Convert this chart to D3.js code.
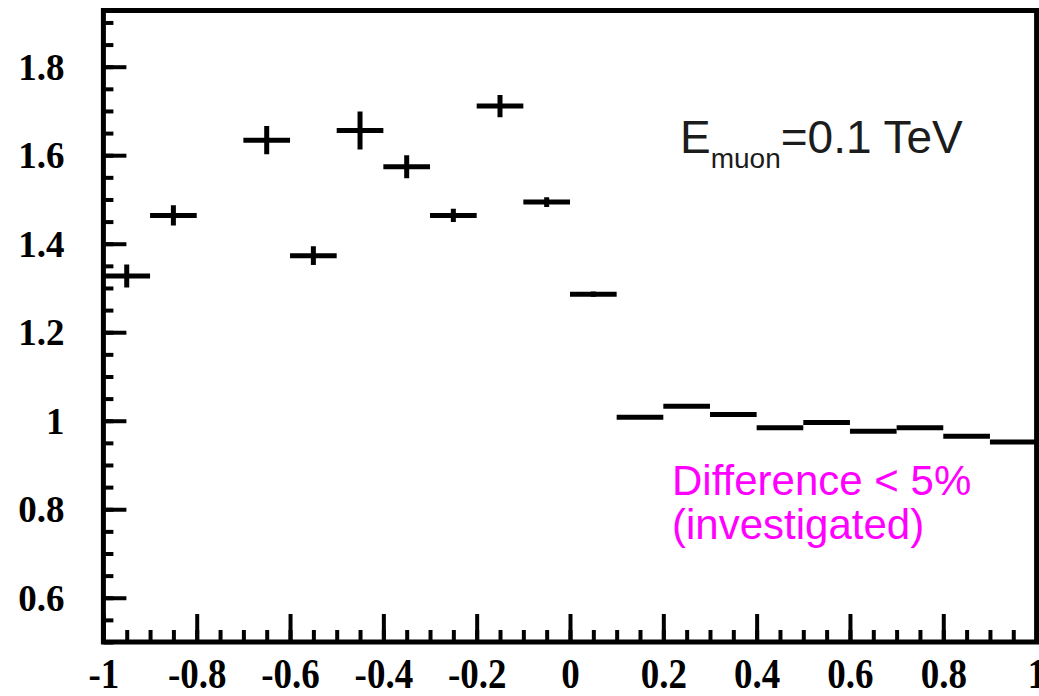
<!DOCTYPE html>
<html>
<head>
<meta charset="utf-8">
<script src="https://cdn.jsdelivr.net/npm/d3@7"></script>
<style>
  body { margin: 0; background: #fff; }
  .axis path { display: none; }
  .axis line { stroke: #000; stroke-width: 4; }
  .axis text { font-family: 'Liberation Serif', 'Times New Roman', serif; font-weight: bold; font-size: 37px; fill: #000; }
</style>
</head>
<body>
<div id="chart"></div>
<script>
// bin centres (bin width 0.1), ratio and its error
const bin_centers = [-0.95, -0.85, -0.75, -0.65, -0.55, -0.45, -0.35, -0.25, -0.15, -0.05,
                     0.05, 0.15, 0.25, 0.35, 0.45, 0.55, 0.65, 0.75, 0.85, 0.95];
const ratio = [1.327, 1.464, null, 1.634, 1.373, 1.656, 1.574, 1.464, 1.711, 1.494,
               1.286, 1.008, 1.033, 1.014, 0.984, 0.996, 0.976, 0.984, 0.965, 0.952];
const ratio_err = [0.026, 0.023, null, 0.032, 0.021, 0.043, 0.026, 0.015, 0.025, 0.011,
                   0.006, 0.003, 0.003, 0.003, 0.003, 0.003, 0.003, 0.003, 0.003, 0.003];
const bin_width = 0.1;

const x_major = [-1, -0.8, -0.6, -0.4, -0.2, 0, 0.2, 0.4, 0.6, 0.8, 1];
const x_labels = ['-1', '-0.8', '-0.6', '-0.4', '-0.2', '0', '0.2', '0.4', '0.6', '0.8', '1'];
const y_major = [0.6, 0.8, 1.0, 1.2, 1.4, 1.6, 1.8];
const y_labels = ['0.6', '0.8', '1', '1.2', '1.4', '1.6', '1.8'];

const chart_width = 1039;
const chart_height = 696;
const frame = { left: 103.4, right: 1036.6, top: 10.5, bottom: 642 };

const data = bin_centers.map((c, i) => ({ x: c, y: ratio[i], e: ratio_err[i] }))
    .filter(d => d.y !== null);

const svg = d3.select('#chart')
    .append('svg')
    .attr('width', chart_width)
    .attr('height', chart_height);

// Scales
const x_scale = d3.scaleLinear()
    .domain([-1, 1])
    .range([frame.left, frame.right]);

const y_scale = d3.scaleLinear()
    .domain([0.5, 1.927])
    .range([frame.bottom, frame.top]);

// Minor ticks every 0.05
const x_minor = d3.range(-100, 101, 5).map(v => v / 100);
const y_minor = d3.range(50, 193, 5).map(v => v / 100);

svg.append('g')
    .classed('axis', true)
    .attr('transform', `translate(0, ${frame.bottom})`)
    .call(d3.axisBottom(x_scale).tickValues(x_minor).tickSize(-12).tickFormat(''));

svg.append('g')
    .classed('axis', true)
    .attr('transform', `translate(${frame.left}, 0)`)
    .call(d3.axisLeft(y_scale).tickValues(y_minor).tickSize(-10).tickFormat(''));

// Major ticks with labels
const x_axis = d3.axisBottom(x_scale)
    .tickValues(x_major)
    .tickSize(-28)
    .tickFormat((d, i) => x_labels[i]);

// x labels are drawn a bit taller than wide in the reference
const x_stretch = 1.15;
svg.append('g')
    .classed('axis', true)
    .attr('transform', `translate(0, ${frame.bottom})`)
    .call(x_axis)
    .selectAll('text')
    .attr('y', 46 / x_stretch)
    .attr('dy', null)
    .attr('transform', `scale(1, ${x_stretch})`);

const y_axis = d3.axisLeft(y_scale)
    .tickValues(y_major)
    .tickSize(-23)
    .tickPadding(39)
    .tickFormat((d, i) => y_labels[i]);

svg.append('g')
    .classed('axis', true)
    .attr('transform', `translate(${frame.left}, 0)`)
    .call(y_axis)
    .selectAll('text')
    .attr('dy', '0.34em');

// Clip to the frame
svg.append('clipPath')
    .attr('id', 'plot-clip')
    .append('rect')
    .attr('x', frame.left)
    .attr('y', frame.top)
    .attr('width', frame.right - frame.left)
    .attr('height', frame.bottom - frame.top);

const plot = svg.append('g')
    .attr('clip-path', 'url(#plot-clip)');

// Horizontal bin bars
plot.selectAll('line.hbar')
    .data(data)
    .enter()
    .append('line')
    .classed('hbar', true)
    .attr('x1', d => x_scale(d.x - bin_width / 2))
    .attr('x2', d => x_scale(d.x + bin_width / 2))
    .attr('y1', d => y_scale(d.y))
    .attr('y2', d => y_scale(d.y))
    .attr('stroke', '#000')
    .attr('stroke-width', 5);

// Vertical error bars
plot.selectAll('line.vbar')
    .data(data)
    .enter()
    .append('line')
    .classed('vbar', true)
    .attr('x1', d => x_scale(d.x))
    .attr('x2', d => x_scale(d.x))
    .attr('y1', d => y_scale(d.y - d.e))
    .attr('y2', d => y_scale(d.y + d.e))
    .attr('stroke', '#000')
    .attr('stroke-width', 5);

// Frame
svg.append('rect')
    .attr('x', frame.left)
    .attr('y', frame.top)
    .attr('width', frame.right - frame.left)
    .attr('height', frame.bottom - frame.top)
    .attr('fill', 'none')
    .attr('stroke', '#000')
    .attr('stroke-width', 5);

// Annotations
const energy = svg.append('text')
    .attr('x', 680)
    .attr('y', 153)
    .attr('font-family', "'Liberation Sans', Arial, sans-serif")
    .attr('font-size', 46)
    .attr('fill', '#1c1c1c');
energy.append('tspan').text('E');
energy.append('tspan').attr('font-size', 28).attr('dy', 15).text('muon');
energy.append('tspan').attr('dy', -15).text('=0.1 TeV');

svg.append('text')
    .attr('x', 672)
    .attr('y', 495)
    .attr('font-family', "'Liberation Sans', Arial, sans-serif")
    .attr('font-size', 42)
    .attr('fill', '#ff00ff')
    .text('Difference < 5%');

svg.append('text')
    .attr('x', 672)
    .attr('y', 539)
    .attr('font-family', "'Liberation Sans', Arial, sans-serif")
    .attr('font-size', 42)
    .attr('fill', '#ff00ff')
    .text('(investigated)');
</script>
</body>
</html>
